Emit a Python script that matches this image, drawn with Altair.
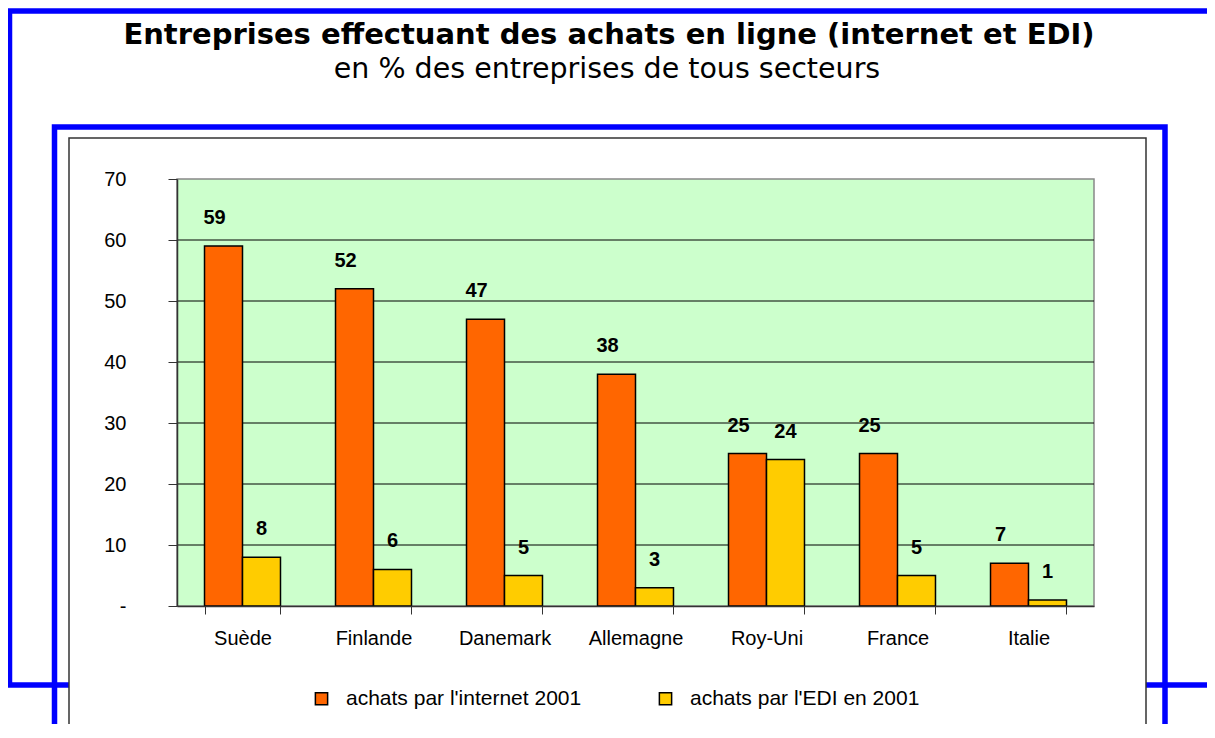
import altair as alt
import pandas as pd

countries = ["Suède", "Finlande", "Danemark", "Allemagne", "Roy-Uni", "France", "Italie"]
series_names = ["achats par l'internet 2001", "achats par l'EDI en 2001"]
internet = [59, 52, 47, 38, 25, 25, 7]
edi = [8, 6, 5, 3, 24, 5, 1]
y_ticks = [0, 10, 20, 30, 40, 50, 60, 70]
grid_values = [10, 20, 30, 40, 50, 60]
title_text = "Entreprises effectuant des achats en ligne (internet et EDI)"
subtitle_text = "en % des entreprises de tous secteurs"

rows = []
for c, a, b in zip(countries, internet, edi):
    rows.append({"country": c, "series": series_names[0], "value": a})
    rows.append({"country": c, "series": series_names[1], "value": b})
df = pd.DataFrame(rows)
grid_df = pd.DataFrame({"value": grid_values})

W, H = 917, 427
OX, OY = 177, 179
one = alt.Data(values=[{"k": 1}])

def frame(x1, y1, x2, y2, **kw):
    return alt.Chart(one).mark_rect(**kw).encode(
        x=alt.value(x1 - OX), x2=alt.value(x2 - OX),
        y=alt.value(y1 - OY), y2=alt.value(y2 - OY))

outer = frame(9.5, 11, 1210, 685, fillOpacity=0, stroke="#0000FF", strokeWidth=5.5)
inner = frame(54.5, 127, 1165, 760, fillOpacity=0, stroke="#0000FF", strokeWidth=5.5)
box = frame(69, 138, 1146, 733, fill="white", stroke="#333333", strokeWidth=1.5)
plotbg = frame(OX, OY, OX + W, OY + H, fill="#CCFFCC", stroke="#888888", strokeWidth=1.5)

title = alt.Chart(one).mark_text(
    text=title_text, font="DejaVu Sans", fontWeight="bold", fontSize=29,
    align="center", baseline="middle", color="black"
).encode(x=alt.value(609 - OX), y=alt.value(35 - OY))
subtitle = alt.Chart(one).mark_text(
    text=subtitle_text, font="DejaVu Sans", fontSize=28.5,
    align="center", baseline="middle", color="black"
).encode(x=alt.value(607 - OX), y=alt.value(69 - OY))

yscale = alt.Scale(domain=[0, 70], nice=False)
xscale = alt.Scale(paddingInner=0.42, paddingOuter=0.21)
oscale = alt.Scale(paddingInner=0, paddingOuter=0)

grid = alt.Chart(grid_df).mark_rule(color="black", strokeWidth=1).encode(
    y=alt.Y("value:Q", scale=yscale, title=""),
    x=alt.value(0), x2=alt.value(W))

bars = alt.Chart(df).mark_bar(stroke="black", strokeWidth=1.5).encode(
    x=alt.X("country:N", sort=countries, scale=xscale, title="",
            axis=alt.Axis(labelAngle=0, labelFont="Liberation Sans", labelFontSize=20,
                          labelColor="black", tickBand="extent", tickSize=8,
                          tickColor="#333333", domainColor="#333333", domainWidth=1.5,
                          labelPadding=14, zindex=1, grid=False)),
    xOffset=alt.XOffset("series:N", sort=series_names, scale=oscale),
    y=alt.Y("value:Q", scale=yscale, title="",
            axis=alt.Axis(values=y_ticks, labelFont="Liberation Sans", labelFontSize=20,
                          labelColor="black", tickSize=9, tickColor="#333333",
                          domainColor="#333333", domainWidth=1.5, labelPadding=42,
                          grid=False, zindex=1,
                          labelExpr="datum.value == 0 ? '-' : datum.label")),
    color=alt.Color("series:N", sort=series_names,
                    scale=alt.Scale(domain=series_names, range=["#FF6600", "#FFCC00"]),
                    legend=alt.Legend(title=None, orient="none", legendX=134, legendY=509,
                                      direction="horizontal", symbolType="square",
                                      symbolSize=150, symbolStrokeColor="black",
                                      symbolStrokeWidth=1.5, labelFont="Liberation Sans",
                                      labelFontSize=21, labelColor="black", labelLimit=600,
                                      labelOffset=14, columnPadding=73)),
)

def labels(series_name, dx):
    return alt.Chart(df).transform_filter(
        alt.datum.series == series_name
    ).mark_text(font="Liberation Sans", fontWeight="bold", fontSize=20, color="black",
                baseline="alphabetic", dy=-22, dx=dx).encode(
        x=alt.X("country:N", sort=countries, scale=xscale, title=""),
        xOffset=alt.XOffset("series:N", sort=series_names, scale=oscale),
        y=alt.Y("value:Q", scale=yscale, title=""),
        text=alt.Text("value:Q"))

chart = alt.layer(
    outer, inner, box, title, subtitle, plotbg, grid, bars,
    labels(series_names[0], -9), labels(series_names[1], 0)
).properties(
    width=W, height=H,
    autosize=alt.AutoSizeParams(type="none"),
    padding={"left": OX - 8, "top": OY - 8, "right": 1199 - (OX - 8) - W, "bottom": 118},
    background="white",
).configure_view(strokeWidth=0)

chart.save("out.html", embed_options={"renderer": "svg", "actions": False})
